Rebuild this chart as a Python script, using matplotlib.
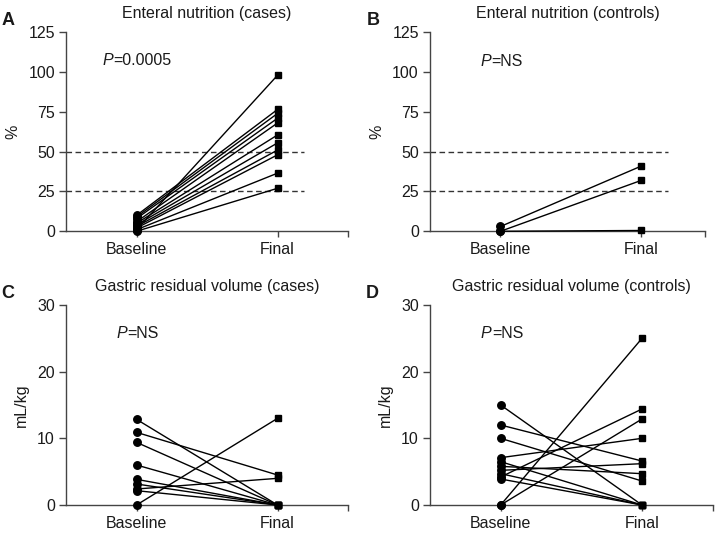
import matplotlib
matplotlib.use('Agg')
import matplotlib.pyplot as plt

plt.rcParams['font.family'] = ['Liberation Sans', 'DejaVu Sans']

# ========================
# Data
# ========================
groups = ['Baseline', 'Final']

# A: enteral nutrition, cases (%)
en_cases_base = [1, 10, 9, 8, 6, 5, 4, 3, 2, 1, 0]
en_cases_final = [98, 76.5, 74, 71, 68, 60.5, 55.5, 51, 48, 36.5, 27]

# B: enteral nutrition, controls (%)
en_ctrl_base = [3, 0, 0]
en_ctrl_final = [41, 32, 0.5]

# C: gastric residual volume, cases (mL/kg)
grv_cases_base = [12.85, 10.9, 9.4, 6.0, 3.85, 3.15, 2.4, 2.15, 0]
grv_cases_final = [0, 4.5, 0, 0, 0, 0, 4.0, 0, 13.0]

# D: gastric residual volume, controls (mL/kg)
grv_ctrl_base = [15, 12, 10, 7.1, 0, 0, 4.2, 5.2, 5.8, 6.5, 4.7, 3.9]
grv_ctrl_final = [0, 6.6, 3.6, 10, 25, 12.9, 14.4, 6.2, 4.7, 0, 0, 0]

ref_lines = [25, 50]

panels = [
    dict(letter='A', title='Enteral nutrition (cases)', base=en_cases_base, final=en_cases_final,
         ylabel='%', ylim=125, yticks=[0, 25, 50, 75, 100, 125], ptext='=0.0005', pxy=(-0.24, 107.5),
         rect=[0.0917, 0.5669, 0.3917, 0.3727], xmax=1.5, dashed=True),
    dict(letter='B', title='Enteral nutrition (controls)', base=en_ctrl_base, final=en_ctrl_final,
         ylabel='%', ylim=125, yticks=[0, 25, 50, 75, 100, 125], ptext='=NS', pxy=(-0.14, 106.5),
         rect=[0.5972, 0.5669, 0.3818, 0.3727], xmax=1.45, dashed=True),
    dict(letter='C', title='Gastric residual volume (cases)', base=grv_cases_base, final=grv_cases_final,
         ylabel='mL/kg', ylim=30, yticks=[0, 10, 20, 30], ptext='=NS', pxy=(-0.145, 25.75),
         rect=[0.0917, 0.0543, 0.3917, 0.3745], xmax=1.5, dashed=False),
    dict(letter='D', title='Gastric residual volume (controls)', base=grv_ctrl_base, final=grv_ctrl_final,
         ylabel='mL/kg', ylim=30, yticks=[0, 10, 20, 30], ptext='=NS', pxy=(-0.14, 25.75),
         rect=[0.5972, 0.0543, 0.3926, 0.3745], xmax=1.5, dashed=False),
]

fig = plt.figure(figsize=(7.2, 5.34), dpi=100)
axis_col = '#444444'
text_col = '#1a1a1a'

for p in panels:
    ax = fig.add_axes(p['rect'])
    for b, f in zip(p['base'], p['final']):
        ax.plot([0, 1], [b, f], color='black', lw=1.0, zorder=3, clip_on=False)
    ax.plot([0] * len(p['base']), p['base'], 'o', color='black', ms=5.4, zorder=4, clip_on=False)
    ax.plot([1] * len(p['final']), p['final'], 's', color='black', ms=4.8, zorder=4, clip_on=False)
    if p['dashed']:
        for r in ref_lines:
            ax.plot([-0.5, 1.19], [r, r], color='#333333', lw=1.0, ls=(0, (4, 2.5)), zorder=2)

    ax.set_xlim(-0.5, p['xmax'])
    ax.set_ylim(0, p['ylim'])
    ax.set_yticks(p['yticks'])
    ax.set_xticks([0, 1, p['xmax']])
    ax.set_xticklabels(groups + [''])
    for s in ['top', 'right']:
        ax.spines[s].set_visible(False)
    for s in ['left', 'bottom']:
        ax.spines[s].set_color(axis_col)
        ax.spines[s].set_linewidth(1.0)
    ax.tick_params(colors=axis_col, labelcolor=text_col, labelsize=11.5, width=1.0)
    ax.tick_params(axis='y', length=5, pad=3)
    ax.tick_params(axis='x', length=4, pad=4)
    ax.set_ylabel(p['ylabel'], fontsize=11.5, color=text_col, labelpad=6)
    ax.set_title(p['title'], fontsize=11.5, color=text_col, pad=10)
    ax.text(p['pxy'][0], p['pxy'][1], 'P', style='italic', fontsize=11.5, va='center', ha='left',
            color=text_col)
    ax.text(p['pxy'][0] + 0.078, p['pxy'][1], p['ptext'], fontsize=11.5, va='center', ha='left',
            color=text_col)
    ax.text(-0.205, 1.06, p['letter'], transform=ax.transAxes, fontsize=13, fontweight='bold',
            va='center', ha='center', color=text_col)

fig.savefig('out.png', dpi=100)
